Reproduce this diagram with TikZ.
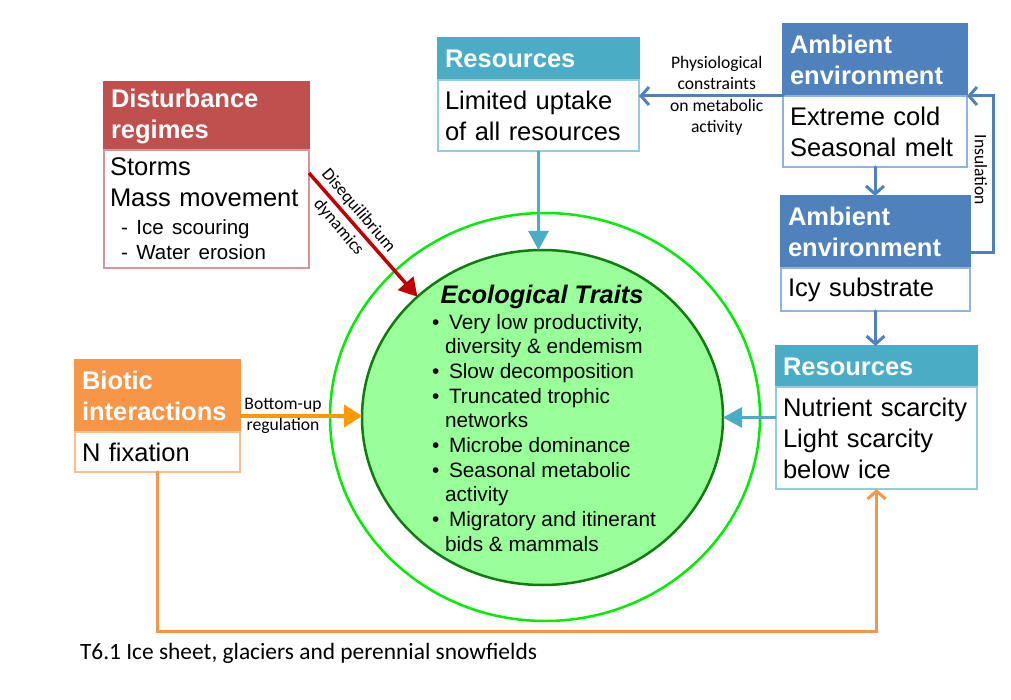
\documentclass[tikz,border=0pt]{standalone}
\usepackage{fontspec}
\setmainfont{Liberation Sans}
\newfontfamily\calib{Carlito}
\usetikzlibrary{arrows.meta,shapes.geometric}
\definecolor{tealH}{HTML}{4BACC6}
\definecolor{tealL}{HTML}{92CDDC}
\definecolor{blueH}{HTML}{4F81BD}
\definecolor{blueL}{HTML}{8EB4E3}
\definecolor{redH}{HTML}{C0504D}
\definecolor{redL}{HTML}{D99694}
\definecolor{orH}{HTML}{F79646}
\definecolor{orL}{HTML}{FABF8F}
\definecolor{orA}{HTML}{FF9900}
\definecolor{redA}{HTML}{C00000}
\definecolor{inFill}{HTML}{99FF99}
\definecolor{inLine}{HTML}{107C10}
\definecolor{outLine}{HTML}{00EE00}
\newcommand\fsA{\fontsize{25.5}{31}\selectfont}
\newcommand\fsB{\fontsize{20.5}{25}\selectfont}
\newcommand\fsC{\fontsize{20.8}{24.7}\selectfont}
\newcommand\fsL{\calib\fontsize{17.6}{21.5}\selectfont}
\tikzset{
  every node/.style={inner sep=0pt, outer sep=0pt},
  hdr/.style={anchor=north west, fill=#1, draw=#1, line width=1.3pt, text=white,
    font=\fsA\bfseries, align=left, inner xsep=7pt},
  bdy/.style={anchor=north west, fill=white, draw=#1, line width=1.3pt, text=black,
    font=\fsA, align=left, inner xsep=7pt},
  lbl/.style={font=\fsL, align=center, text=black},
  chev/.style={-{Straight Barb[length=8pt,width=18pt]}, line width=3pt, line cap=round},
  tri/.style={-{Triangle[length=19pt,width=20pt]}},
  bluearr/.style={chev, draw=blueH},
}
\begin{document}
\begin{tikzpicture}[x=1pt,y=-1pt]
\useasboundingbox (0,0) rectangle (1011,700);

% ellipses
\node[ellipse, draw=outLine, line width=2.5pt, minimum width=430pt, minimum height=408pt] (outer) at (545,417) {};
\node[ellipse, draw=inLine, fill=inFill, line width=2.5pt, minimum width=361pt, minimum height=335pt] (traits) at (542.5,417.5) {};
\node[font=\fontsize{25.4}{30}\selectfont\bfseries\itshape] (ttl) at (542,297) {Ecological Traits};
\node[anchor=north west, font=\fsC, align=left] (tlist) at (432,314) {%
\makebox[17pt][l]{•}Very low productivity,\\
\hspace*{13pt}diversity \& endemism\\
\makebox[17pt][l]{•}Slow decomposition\\
\makebox[17pt][l]{•}Truncated trophic\\
\hspace*{13pt}networks\\
\makebox[17pt][l]{•}Microbe dominance\\
\makebox[17pt][l]{•}Seasonal metabolic\\
\hspace*{13pt}activity\\
\makebox[17pt][l]{•}Migratory and itinerant\\
\hspace*{13pt}bids \& mammals};

% Resources (top)
\node[hdr=tealH, text width=187pt, minimum height=42pt] (resT) at (438,38) {Resources};
\node[bdy=tealL, text width=187pt, minimum height=71pt] (resB) at (resT.south west) {Limited uptake\\of all resources};

% Ambient 1
\node[hdr=blueH, text width=170pt, minimum height=72pt] (amb1T) at (783,24) {Ambient\\environment};
\node[bdy=blueL, text width=170pt, minimum height=71pt] (amb1B) at (amb1T.south west) {Extreme cold\\Seasonal melt};

% Ambient 2
\node[hdr=blueH, text width=175pt, minimum height=72pt] (amb2T) at (781,196) {Ambient\\environment};
\node[bdy=blueL, text width=175pt, minimum height=43pt] (amb2B) at (amb2T.south west) {Icy substrate};

% Resources (right)
\node[hdr=tealH, text width=187pt, minimum height=41pt] (resRT) at (776,346) {Resources};
\node[bdy=tealL, text width=187pt, minimum height=102pt] (resRB) at (resRT.south west) {Nutrient scarcity\\Light scarcity\\below ice};

% Disturbance
\node[hdr=redH, text width=191pt, minimum height=68pt] (distT) at (104,82) {Disturbance\\regimes};
\node[bdy=redL, text width=193pt, minimum height=118pt, inner xsep=6pt] (distB) at (distT.south west) {Storms\\Mass movement\\[-3pt]
{\fsB\hspace*{11pt}- Ice scouring}\\[-6pt]
{\fsB\hspace*{11pt}- Water erosion}};

% Biotic
\node[hdr=orH, text width=151pt, minimum height=72pt] (bioT) at (75,360) {Biotic\\interactions};
\node[bdy=orL, text width=151pt, minimum height=40pt] (bioB) at (bioT.south west) {N fixation};

% connectors
\draw[tealH, line width=3pt, tri] (resB.south) -- (resB.south |- traits.north);
\draw[tealH, line width=3pt, tri] (resRB.west |- traits.east) -- (traits.east);

\draw[bluearr] (amb1T.south west) -- (amb1T.south west -| resB.east)
  node[lbl, pos=0.46] (physl) {Physiological\\constraints\\on metabolic\\activity};
\draw[bluearr] (amb1B.south) -- (amb1B.south |- amb2T.north);
\draw[bluearr] (amb2B.south) -- (amb2B.south |- resRT.north);
\coordinate (insS) at ([yshift=-21pt]amb2T.east);
\draw[bluearr] (insS) -- ++(23,0) |- (amb1T.south east);
\node[lbl, rotate=-90] (insl) at (981,170) {Insulation};

\draw[redA, line width=3.5pt, -{Triangle[length=18pt,width=20pt]}] ([yshift=-23pt]distB.north east) -- (traits.136.6);
\node[lbl, rotate=-49.6, font=\calib\fontsize{17.6}{26}\selectfont] (disl) at (348.5,219) {Disequilibrium\\dynamics};

\coordinate (bu) at ([yshift=-20pt]bioT.east);
\draw[orA, line width=4pt, -{Triangle[length=18pt,width=22pt]}] (bu) -- (bu -| traits.west);
\node[lbl] (bul) at (283,416) {Bottom-up\\regulation};

\draw[chev, draw=orH] (bioB.south) -- ++(0,159) -| (resRB.south);

\node[anchor=west, font=\calib\fontsize{23.4}{28}\selectfont] (cap) at (80,653) {T6.1 Ice sheet, glaciers and perennial snowfields};
\end{tikzpicture}
\end{document}
